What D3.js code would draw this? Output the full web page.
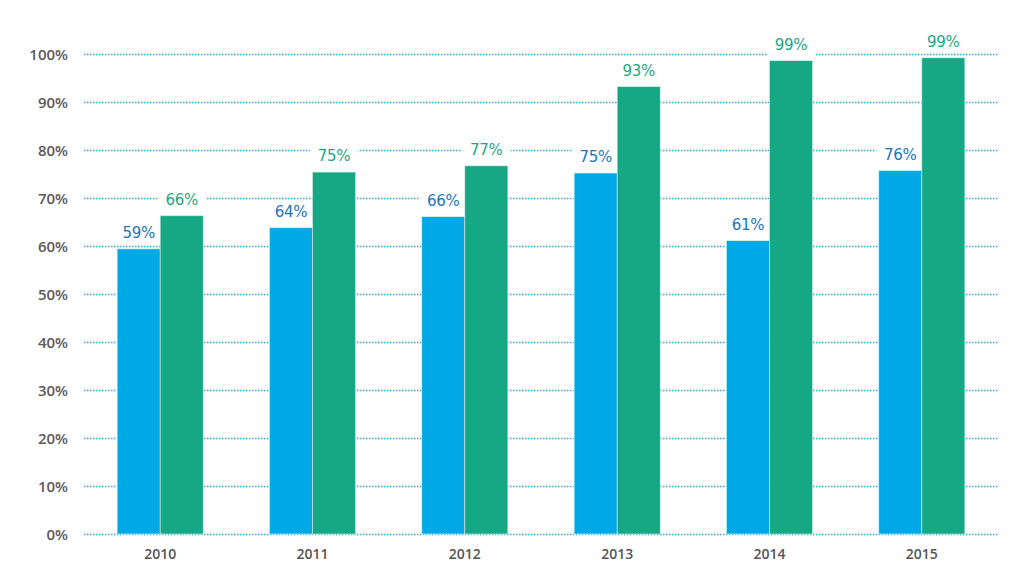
<!DOCTYPE html>
<html><head><meta charset="utf-8">
<script src="https://cdn.jsdelivr.net/npm/d3@7"></script>
<style>body{margin:0;background:#fff}svg{display:block}</style>
</head><body><svg id="c" width="1024" height="588"></svg>
<script>
const years = ["2010","2011","2012","2013","2014","2015"];
const seriesA = [59.4, 63.8, 66.1, 75.2, 61.1, 75.7];
const seriesB = [66.3, 75.4, 76.7, 93.2, 98.6, 99.2];
const yTicks = [0,10,20,30,40,50,60,70,80,90,100];
const colorA = "#00a8e6", colorB = "#16a884";
const labelA = "#1b75c2", labelB = "#1aa884";

const svg = d3.select("#c");
const x = d3.scaleBand().domain(years).range([84, 998]).paddingInner(0.435).paddingOuter(0.2175);
const y = d3.scaleLinear().domain([0, 100]).range([534, 54]);
const bw = x.bandwidth() / 2;
const data = years.map((yr, i) => ({yr, a: seriesA[i], b: seriesB[i]}));

// grid
svg.append("g").selectAll("line").data(yTicks).join("line")
  .attr("x1", 84).attr("x2", 998)
  .attr("y1", d => y(d) + 0.5).attr("y2", d => y(d) + 0.5)
  .attr("stroke", "#2aaee4").attr("stroke-width", 1.3).attr("stroke-dasharray", "1.5,1.5");

// y labels
const yAxis = d3.axisLeft(y).tickValues(yTicks).tickFormat(d => d + "%").tickSize(0).tickPadding(0);
const ga = svg.append("g").attr("transform", "translate(68,0)").call(yAxis);
ga.select(".domain").remove();
ga.selectAll("text").attr("font-family", "'Open Sans', sans-serif").attr("font-size", 15).attr("font-weight", 600).attr("fill", "#5a5a5a").attr("dy", "0.35em");

// x labels
const xAxis = d3.axisBottom(x).tickSize(0).tickPadding(0);
const gx = svg.append("g").attr("transform", "translate(0,548)").call(xAxis);
gx.select(".domain").remove();
gx.selectAll("text").attr("font-family", "'Open Sans', sans-serif").attr("font-size", 14).attr("font-weight", 600).attr("fill", "#555").attr("dy", "0.8em");

// label backgrounds (break gridlines only)
function labelBg(key, dx) {
  svg.append("g").selectAll("rect").data(data).join("rect")
    .attr("x", d => x(d.yr) + dx - 24).attr("y", d => y(d[key]) - 27)
    .attr("width", 48).attr("height", 22).attr("fill", "#fff");
}
labelBg("a", bw / 2);
labelBg("b", bw * 1.5);

const g = svg.append("g");
g.selectAll(".ba").data(data).join("rect")
  .attr("x", d => x(d.yr)).attr("width", bw)
  .attr("y", d => y(d.a)).attr("height", d => y(0) - y(d.a))
  .attr("fill", colorA).attr("stroke", "#d8f1fb").attr("stroke-width", 0.6);
g.selectAll(".bb").data(data).join("rect")
  .attr("x", d => x(d.yr) + bw).attr("width", bw)
  .attr("y", d => y(d.b)).attr("height", d => y(0) - y(d.b))
  .attr("fill", colorB).attr("stroke", "#d5efe8").attr("stroke-width", 0.6);

function labels(key, dx, col) {
  svg.append("g").selectAll("text").data(data).join("text")
    .attr("x", d => x(d.yr) + dx).attr("y", d => y(d[key]) - 16)
    .attr("text-anchor", "middle").attr("dy", "0.36em")
    .attr("font-family", "'DejaVu Sans', sans-serif").attr("font-size", 15).attr("letter-spacing", "-0.3")
    .attr("fill", col).text(d => Math.round(d[key]) + "%");
}
labels("a", bw / 2, labelA);
labels("b", bw * 1.5, labelB);
</script></body></html>
